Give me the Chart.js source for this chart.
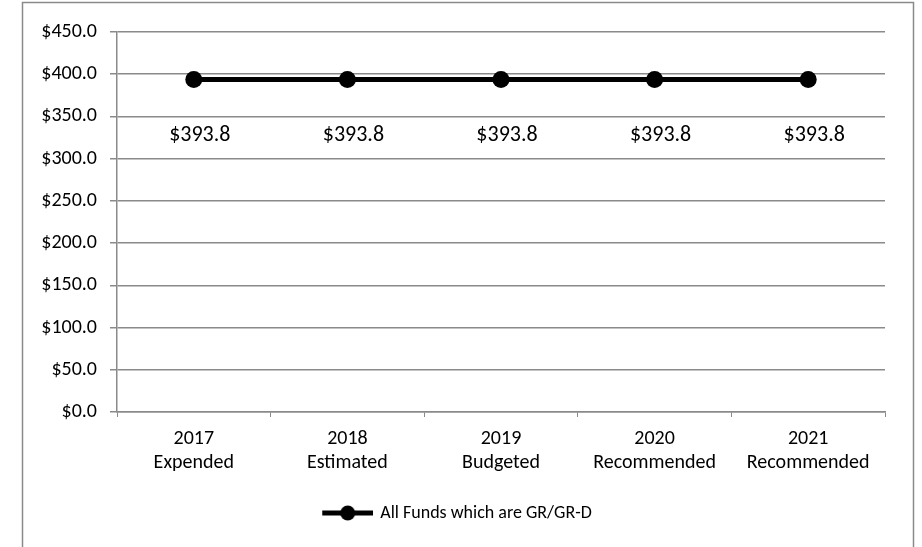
<!DOCTYPE html>
<html><head><meta charset="utf-8">
<script src="https://cdn.jsdelivr.net/npm/chart.js@4"></script>
<style>html,body{margin:0;padding:0;background:#fff}#wrap{width:922px;height:547px}</style>
</head><body><div id="wrap"><canvas id="c" width="922" height="547"></canvas></div>
<script>
const categories = [["2017","Expended"],["2018","Estimated"],["2019","Budgeted"],["2020","Recommended"],["2021","Recommended"]];
const seriesName = "All Funds which are GR/GR-D";
const values = [393.8, 393.8, 393.8, 393.8, 393.8];
const yTicks = {min: 0, max: 450, step: 50};
const FONT = "Carlito, Lato, 'Open Sans', sans-serif";

function legendIcon(){
  const c = document.createElement('canvas'); c.width = 82; c.height = 18;
  const g = c.getContext('2d');
  g.strokeStyle = '#000'; g.lineWidth = 5;
  g.beginPath(); g.moveTo(31,9); g.lineTo(82,9); g.stroke();
  g.fillStyle = '#000'; g.beginPath(); g.arc(56.5,9,7.5,0,Math.PI*2); g.fill();
  return c;
}
const icon = legendIcon();

const framePlugin = {
  id: 'frame',
  beforeDraw(chart){
    const ctx = chart.ctx; ctx.save();
    ctx.fillStyle = '#fff'; ctx.fillRect(0,0,chart.width,chart.height);
    ctx.strokeStyle = '#8a8a8a'; ctx.lineWidth = 1.5;
    ctx.strokeRect(22.5, 2.5, 891, 560);
    ctx.restore();
  }
};
const labelPlugin = {
  id: 'dlabels',
  afterDatasetsDraw(chart){
    const ctx = chart.ctx; const meta = chart.getDatasetMeta(0);
    ctx.save(); ctx.font = "22px " + FONT; ctx.fillStyle = '#000';
    ctx.textAlign = 'center'; ctx.textBaseline = 'middle';
    meta.data.forEach((p,i)=>{
      ctx.fillText('$' + values[i].toFixed(1), p.x + 6, p.y + 56);
    });
    ctx.restore();
  }
};

new Chart(document.getElementById('c'), {
  type: 'line',
  data: {
    labels: categories,
    datasets: [{
      label: seriesName, data: values,
      borderColor: '#000', backgroundColor: '#000', borderWidth: 5,
      pointRadius: 8.5, pointHoverRadius: 8.5, pointBackgroundColor: '#000', pointBorderWidth: 0,
      tension: 0
    }]
  },
  options: {
    responsive: false, animation: false, devicePixelRatio: 1,
    layout: {padding: {left: 0, top: 32, right: 37, bottom: 15}},
    plugins: {
      tooltip: {enabled: false},
      legend: {
        position: 'bottom',
        labels: {
          usePointStyle: true, pointStyleWidth: 78, boxHeight: 18, padding: 8, color: '#000',
          font: {family: FONT, size: 18},
          generateLabels(chart){
            return [{text: seriesName, pointStyle: icon, fillStyle: '#000', strokeStyle: '#000', lineWidth: 0, datasetIndex: 0, fontColor: '#000'}];
          }
        }
      }
    },
    scales: {
      x: {
        offset: true,
        grid: {offset: true, drawOnChartArea: false, drawTicks: true, tickLength: 5, color: '#8a8a8a'},
        border: {color: '#8a8a8a', width: 1.5},
        ticks: {color: '#000', font: {family: FONT, size: 20}, padding: 10, maxRotation: 0},
        afterFit(s){ s.height = 84; }
      },
      y: {
        min: yTicks.min, max: yTicks.max,
        ticks: {stepSize: yTicks.step, color: '#000', font: {family: FONT, size: 20}, padding: 13,
          callback: v => '$' + Number(v).toFixed(1)},
        grid: {color: '#8a8a8a', tickLength: 7, lineWidth: 1.5},
        border: {color: '#8a8a8a', width: 1.5},
        afterFit(s){ s.width = 117; }
      }
    }
  },
  plugins: [framePlugin, labelPlugin]
});
</script></body></html>
